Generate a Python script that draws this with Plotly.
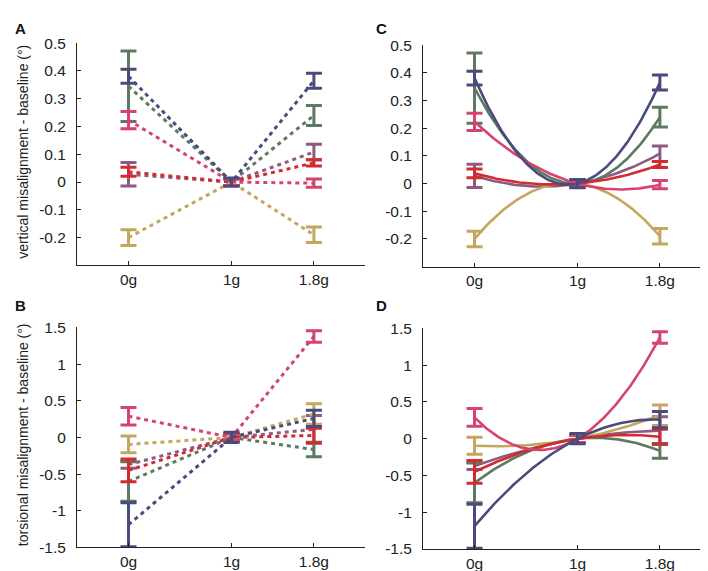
import numpy as np
import plotly.graph_objects as go

# ---------------- data ----------------
conditions = ["0g", "1g", "1.8g"]
g_levels = [0, 1, 1.8]
series_names = ["purple", "gold", "green", "red", "pink", "navy"]
series_colors = ["#8c5a82", "#c4a65e", "#5c7a60", "#d42b30", "#d6436f", "#4b4a7c"]

# vertical misalignment - baseline (deg): mean and error at 0g, 1g, 1.8g
vert_mean = {
    "purple": [0.028, 0.0, 0.108],
    "gold":   [-0.200, 0.0, -0.190],
    "green":  [0.345, 0.0, 0.240],
    "red":    [0.037, 0.0, 0.069],
    "pink":   [0.223, 0.0, -0.004],
    "navy":   [0.381, 0.0, 0.365],
}
vert_err = {
    "purple": [0.042, 0.012, 0.028],
    "gold":   [0.028, 0.012, 0.028],
    "green":  [0.127, 0.012, 0.036],
    "red":    [0.016, 0.012, 0.011],
    "pink":   [0.031, 0.012, 0.015],
    "navy":   [0.025, 0.015, 0.027],
}

# torsional misalignment - baseline (deg)
tors_mean = {
    "purple": [-0.37, 0.0, 0.11],
    "gold":   [-0.095, 0.0, 0.32],
    "green":  [-0.60, 0.0, -0.165],
    "red":    [-0.45, 0.0, 0.027],
    "pink":   [0.29, 0.0, 1.378],
    "navy":   [-1.19, 0.0, 0.26],
}
tors_err = {
    "purple": [0.05, 0.05, 0.19],
    "gold":   [0.115, 0.05, 0.14],
    "green":  [0.27, 0.05, 0.10],
    "red":    [0.155, 0.05, 0.10],
    "pink":   [0.12, 0.05, 0.078],
    "navy":   [0.30, 0.07, 0.11],
}

vert_ticks = [-0.2, -0.1, 0, 0.1, 0.2, 0.3, 0.4, 0.5]
vert_ticktext = ["-0.2", "-0.1", "0", "0.1", "0.2", "0.3", "0.4", "0.5"]
tors_ticks = [-1.5, -1, -0.5, 0, 0.5, 1, 1.5]
tors_ticktext = ["-1.5", "-1", "-0.5", "0", "0.5", "1", "1.5"]

# ---------------- figure ----------------
W, H = 708, 571
FONT = "Liberation Sans, Arial, Helvetica, sans-serif"
fig = go.Figure()

def px_x(p):
    return p / W

def px_y(p):
    return (H - p) / H

panels = {
    "": ((69, 357.4), (27, 256), vert_mean, vert_err, vert_ticks, vert_ticktext, [-0.3, 0.5], False),
    "2": ((415, 703.4), (29, 257.3), vert_mean, vert_err, vert_ticks, vert_ticktext, [-0.3, 0.5], True),
    "3": ((69, 357.4), (320, 546.7), tors_mean, tors_err, tors_ticks, tors_ticktext, [-1.5, 1.5], False),
    "4": ((415, 703.4), (321, 548.3), tors_mean, tors_err, tors_ticks, tors_ticktext, [-1.5, 1.5], True),
}

xs_fine = np.linspace(0, 1.8, 120)

for suf, (xd, yd, means, errs, yt, ytt, yr, curved) in panels.items():
    xa = "x" + suf
    ya = "y" + suf
    for name, col in zip(series_names, series_colors):
        m = means[name]
        e = errs[name]
        if curved:
            coef = np.polyfit(g_levels, m, 2)
            fig.add_trace(go.Scatter(
                x=xs_fine, y=np.polyval(coef, xs_fine), mode="lines",
                line=dict(color=col, width=2.6), xaxis=xa, yaxis=ya,
                showlegend=False, hoverinfo="skip"))
            fig.add_trace(go.Scatter(
                x=g_levels, y=m, mode="markers", marker=dict(size=1, color=col, opacity=0),
                error_y=dict(type="data", array=e, color=col, thickness=3, width=8),
                xaxis=xa, yaxis=ya, showlegend=False, hoverinfo="skip"))
        else:
            fig.add_trace(go.Scatter(
                x=g_levels, y=m, mode="lines",
                line=dict(color=col, width=3, dash="4px,4px"),
                error_y=dict(type="data", array=e, color=col, thickness=3, width=8),
                xaxis=xa, yaxis=ya, showlegend=False, hoverinfo="skip"))

    xkey = "xaxis" + suf
    ykey = "yaxis" + suf
    fig.update_layout({
        xkey: dict(domain=[px_x(xd[0]), px_x(xd[1])], range=[-0.5, 2.3],
                   anchor=ya, tickvals=g_levels, ticktext=conditions,
                   showline=True, linecolor="#222", linewidth=1, showgrid=False,
                   zeroline=False, ticks="inside", ticklen=4, tickcolor="#222",
                   tickfont=dict(family=FONT, size=15.5, color="#222")),
        ykey: dict(domain=[px_y(yd[1]), px_y(yd[0])], range=yr,
                   anchor=xa, tickvals=yt, ticktext=ytt,
                   showline=True, linecolor="#222", linewidth=1, showgrid=False,
                   zeroline=False, ticks="inside", ticklen=4, tickcolor="#222",
                   ticklabelstandoff=7,
                   tickfont=dict(family=FONT, size=15.5, color="#222")),
    })

annotations = [
    dict(text="<b>A</b>", x=px_x(5), y=px_y(12), xanchor="left", yanchor="middle"),
    dict(text="<b>C</b>", x=px_x(366), y=px_y(12), xanchor="left", yanchor="middle"),
    dict(text="<b>B</b>", x=px_x(5), y=px_y(297), xanchor="left", yanchor="middle"),
    dict(text="<b>D</b>", x=px_x(366), y=px_y(297), xanchor="left", yanchor="middle"),
]
for a in annotations:
    a.update(xref="paper", yref="paper", showarrow=False,
             font=dict(family=FONT, size=15, color="#111"))

annotations += [
    dict(text="vertical misalignment - baseline (°)", x=px_x(15), y=px_y(139),
         textangle=-90, xref="paper", yref="paper", showarrow=False,
         xanchor="center", yanchor="middle",
         font=dict(family=FONT, size=14, color="#222")),
    dict(text="torsional misalignment - baseline (°)", x=px_x(15), y=px_y(431),
         textangle=-90, xref="paper", yref="paper", showarrow=False,
         xanchor="center", yanchor="middle",
         font=dict(family=FONT, size=14, color="#222")),
]

fig.update_layout(
    width=W, height=H, margin=dict(l=0, r=0, t=0, b=0),
    paper_bgcolor="white", plot_bgcolor="white",
    annotations=annotations, showlegend=False,
)

fig.write_html("out.html")
